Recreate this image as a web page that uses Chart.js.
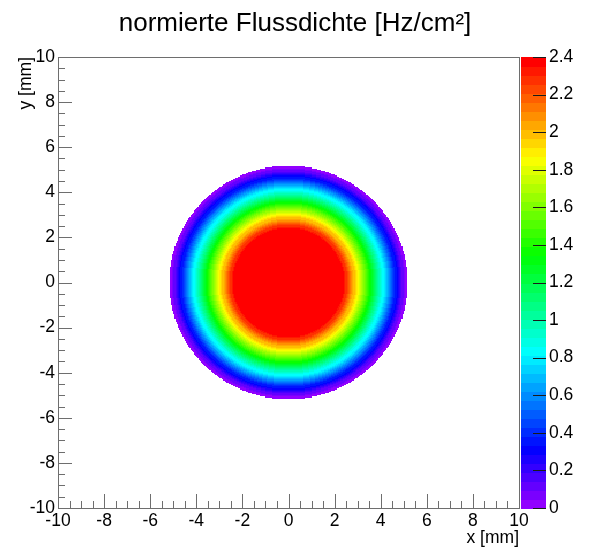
<!DOCTYPE html>
<html>
<head>
<meta charset="utf-8">
<script src="https://cdn.jsdelivr.net/npm/chart.js@4.4.1/dist/chart.umd.min.js"></script>
<style>
  html, body { margin: 0; padding: 0; background: #ffffff; }
  canvas { display: block; }
</style>
</head>
<body>
<canvas id="c" width="590" height="554"></canvas>
<script>
// Radial profile of the normalised flux density (Hz/cm²) against distance from the beam axis (mm).
// Inside the first radius the flux is flat; beyond the last sample the cells are empty.
const profileRadius = [2.20, 2.25, 2.30, 2.35, 2.40, 2.45, 2.50, 2.55, 2.60, 2.65,
                       2.70, 2.75, 2.80, 2.85, 2.90, 2.95, 3.00, 3.05, 3.10, 3.15,
                       3.20, 3.25, 3.30, 3.35, 3.40, 3.45, 3.50, 3.55, 3.60, 3.65,
                       3.70, 3.75, 3.80, 3.85, 3.90, 3.95, 4.00, 4.05, 4.10, 4.15,
                       4.20, 4.25, 4.30, 4.35, 4.40, 4.45, 4.50, 4.55, 4.60, 4.65,
                       4.70, 4.75, 4.80, 4.85, 4.90, 4.95, 5.00, 5.05, 5.10, 5.15];
const profileFlux   = [2.40, 2.40, 2.39, 2.38, 2.36, 2.33, 2.30, 2.26, 2.22, 2.18,
                       2.14, 2.10, 2.06, 2.01, 1.97, 1.92, 1.88, 1.84, 1.79, 1.75,
                       1.70, 1.65, 1.60, 1.55, 1.50, 1.45, 1.40, 1.36, 1.31, 1.26,
                       1.22, 1.17, 1.13, 1.08, 1.04, 0.99, 0.95, 0.90, 0.86, 0.82,
                       0.77, 0.73, 0.68, 0.64, 0.60, 0.55, 0.51, 0.47, 0.42, 0.38,
                       0.34, 0.30, 0.26, 0.22, 0.18, 0.14, 0.11, 0.07, 0.04, 0.02];

// Axes: x and y in mm, z (colour scale) in Hz/cm²
const xTicks = [-10, -8, -6, -4, -2, 0, 2, 4, 6, 8, 10];
const yTicks = [-10, -8, -6, -4, -2, 0, 2, 4, 6, 8, 10];
const zTicks = [0, 0.2, 0.4, 0.6, 0.8, 1, 1.2, 1.4, 1.6, 1.8, 2, 2.2, 2.4];
const axisMin = -10, axisMax = 10;
const zMin = 0, zMax = 2.4;
const nBins = 400;      // bins per axis
const nColors = 50;     // colour levels of the palette
const minorStep = 0.5;  // mm between minor ticks

const binWidth = (axisMax - axisMin) / nBins;
const profileStep = profileRadius[1] - profileRadius[0];

// flux at a given radius: nearest profile sample, flat plateau inside, null outside
function fluxAt(r) {
  if (r <= profileRadius[0]) return profileFlux[0];
  const k = Math.round((r - profileRadius[0]) / profileStep);
  if (k >= profileRadius.length) return null;
  return profileFlux[k];
}

// histogram cells (bin centres) with non-zero content
const cells = [];
for (let i = 0; i < nBins; i++) {
  for (let j = 0; j < nBins; j++) {
    const x = axisMin + (i + 0.5) * binWidth;
    const y = axisMin + (j + 0.5) * binWidth;
    const v = fluxAt(Math.hypot(x, y));
    if (v !== null && v > zMin) cells.push({ x: x, y: y, v: v });
  }
}

// violet → red spectrum palette (HLS, lightness 0.5, saturation 1), last level pure red
function levelColor(level) {
  if (level >= nColors - 1) return 'hsl(0,100%,50%)';
  const hue = 280 - (level + 1) * (280 / nColors);
  return 'hsl(' + hue.toFixed(2) + ',100%,50%)';
}
function valueColor(v) {
  let level = Math.floor((v - zMin) / (zMax - zMin) * nColors);
  if (level < 0) level = 0;
  if (level > nColors - 1) level = nColors - 1;
  return levelColor(level);
}

const FONT = 'Liberation Sans, Arial, Helvetica, sans-serif';
const FRAME = '#6e6e6e';

// draws the histogram cells through the x/y scales
const heatmapPlugin = {
  id: 'heatmap',
  beforeDatasetsDraw(chart) {
    const ctx = chart.ctx, xs = chart.scales.x, ys = chart.scales.y;
    const data = chart.data.datasets[0].data;
    ctx.save();
    for (const c of data) {
      const x0 = Math.round(xs.getPixelForValue(c.x - binWidth / 2));
      const x1 = Math.round(xs.getPixelForValue(c.x + binWidth / 2));
      const y0 = Math.round(ys.getPixelForValue(c.y + binWidth / 2));
      const y1 = Math.round(ys.getPixelForValue(c.y - binWidth / 2));
      if (x1 <= x0 || y1 <= y0) continue;
      ctx.fillStyle = valueColor(c.v);
      ctx.fillRect(x0, y0, x1 - x0, y1 - y0);
    }
    ctx.restore();
  }
};

// frame, inward ticks and the colour bar
const framePlugin = {
  id: 'frame',
  afterDraw(chart) {
    const ctx = chart.ctx, a = chart.chartArea;
    const xs = chart.scales.x, ys = chart.scales.y, zs = chart.scales.z;
    ctx.save();
    ctx.lineWidth = 1;
    ctx.strokeStyle = FRAME;
    ctx.strokeRect(Math.round(a.left) + 0.5, Math.round(a.top) + 0.5,
                   Math.round(a.right - a.left), Math.round(a.bottom - a.top));

    const nMinor = Math.round((axisMax - axisMin) / minorStep);
    ctx.beginPath();
    for (let k = 0; k <= nMinor; k++) {
      const v = axisMin + k * minorStep;
      const major = xTicks.includes(v);
      const len = major ? 14 : 7;
      const px = Math.round(xs.getPixelForValue(v)) + 0.5;
      ctx.moveTo(px, a.bottom);
      ctx.lineTo(px, a.bottom - len);
      const py = Math.round(ys.getPixelForValue(v)) + 0.5;
      ctx.moveTo(a.left, py);
      ctx.lineTo(a.left + len, py);
    }
    ctx.stroke();

    // colour bar
    const barLeft = zs.left + 2, barRight = zs.left + 27;
    for (let l = 0; l < nColors; l++) {
      const v0 = zMin + l * (zMax - zMin) / nColors;
      const v1 = zMin + (l + 1) * (zMax - zMin) / nColors;
      const y0 = Math.round(zs.getPixelForValue(v1));
      const y1 = Math.round(zs.getPixelForValue(v0));
      ctx.fillStyle = levelColor(l);
      ctx.fillRect(barLeft, y0, barRight - barLeft, y1 - y0 + 1);
    }
    ctx.strokeStyle = '#1a1a1a';
    ctx.beginPath();
    for (const t of zTicks) {
      const py = Math.round(zs.getPixelForValue(t)) + 0.5;
      ctx.moveTo(barRight, py);
      ctx.lineTo(barRight - 13, py);
    }
    ctx.stroke();
    ctx.restore();
  }
};

const tickFont = { family: FONT, size: 17.5 };
const titleFont = { family: FONT, size: 17.5, lineHeight: 1.2 };
const plainNumber = v => String(Number(v.toFixed(2)));

new Chart(document.getElementById('c'), {
  type: 'scatter',
  data: {
    datasets: [{
      label: 'Flussdichte',
      data: cells,
      pointRadius: 0,
      pointHoverRadius: 0,
      showLine: false
    }]
  },
  options: {
    responsive: false,
    devicePixelRatio: 1,
    animation: false,
    events: [],
    layout: { padding: 0 },
    plugins: {
      legend: { display: false },
      tooltip: { enabled: false },
      title: {
        display: true,
        text: 'normierte Flussdichte [Hz/cm²]',
        color: '#000000',
        font: { family: FONT, size: 26, weight: 'normal', lineHeight: 1.2 },
        padding: { top: 8.4, bottom: 17.4 }
      }
    },
    scales: {
      x: {
        type: 'linear',
        position: 'bottom',
        min: axisMin, max: axisMax,
        afterBuildTicks: s => { s.ticks = xTicks.map(v => ({ value: v })); },
        afterFit: s => { s.height = 46; },
        grid: { display: false, drawTicks: false },
        border: { display: false },
        ticks: { color: '#000000', font: tickFont, padding: 2.5, maxRotation: 0, autoSkip: false,
                 callback: plainNumber },
        title: { display: true, text: 'x [mm]', align: 'end', color: '#000000', font: titleFont,
                 padding: { top: 0, bottom: 5.5 } }
      },
      y: {
        type: 'linear',
        position: 'left',
        min: axisMin, max: axisMax,
        afterBuildTicks: s => { s.ticks = yTicks.map(v => ({ value: v })); },
        afterFit: s => { s.width = 58; },
        grid: { display: false, drawTicks: false },
        border: { display: false },
        ticks: { color: '#000000', font: tickFont, padding: 3, autoSkip: false,
                 callback: plainNumber },
        title: { display: true, text: 'y [mm]', align: 'end', color: '#000000', font: titleFont,
                 padding: { top: 16, bottom: 0 } }
      },
      z: {
        type: 'linear',
        axis: 'y',
        position: 'right',
        min: zMin, max: zMax,
        afterBuildTicks: s => { s.ticks = zTicks.map(v => ({ value: v })); },
        afterFit: s => { s.width = 71; },
        grid: { display: false, drawTicks: false },
        border: { display: false },
        ticks: { color: '#000000', font: tickFont, padding: 30, autoSkip: false,
                 callback: plainNumber }
      }
    }
  },
  plugins: [heatmapPlugin, framePlugin]
});
</script>
</body>
</html>
